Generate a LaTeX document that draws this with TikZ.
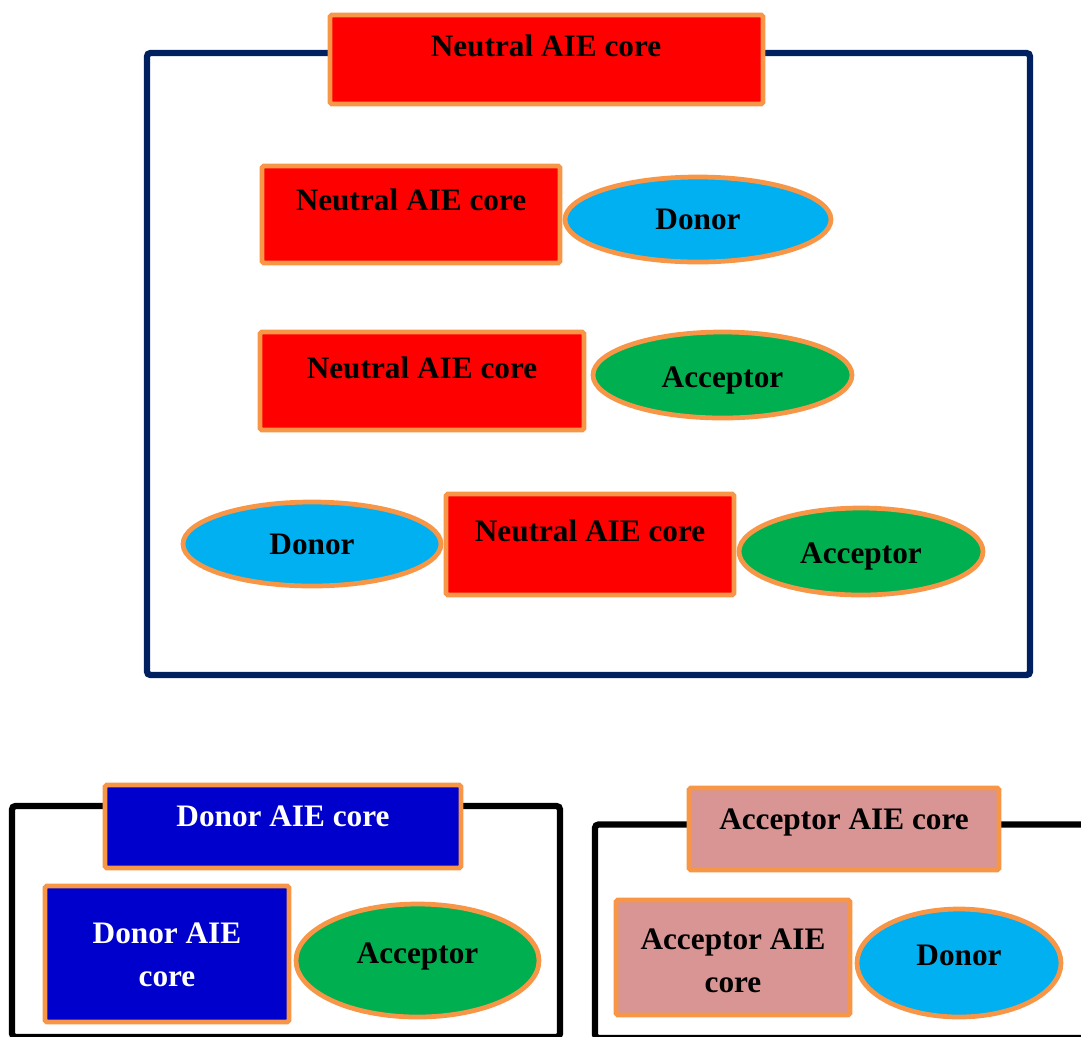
\documentclass[tikz,border=0pt]{standalone}
\usepackage{fontspec}
\setmainfont{Liberation Serif}
\usetikzlibrary{shapes.geometric}
\definecolor{neutralcolor}{RGB}{255, 0, 0}
\definecolor{edgecolor}{RGB}{247, 150, 70}
\definecolor{donorcolor}{RGB}{0, 176, 240}
\definecolor{acceptorcolor}{RGB}{0, 176, 80}
\definecolor{dcorecolor}{RGB}{0, 0, 204}
\definecolor{acorecolor}{RGB}{217, 149, 148}
\definecolor{framecolor}{RGB}{0, 32, 96}

\begin{document}
\begin{tikzpicture}[
    x=0.02cm, y=-0.02cm,
    dims/.style 2 args={minimum width=#1*0.02cm, minimum height=#2*0.02cm},
    corebox/.style={rectangle, draw=edgecolor, line width=2.7pt, rounded corners=1pt, inner sep=0pt},
    unit/.style={ellipse, draw=edgecolor, line width=2.7pt, inner sep=0pt},
    txt/.style={font=\fontsize{17.8}{24.5}\selectfont\bfseries, align=center, inner sep=0pt},
    frame/.style={line width=3.6pt, rounded corners=2pt},
  ]

  \useasboundingbox (0, 0) rectangle (1081, 1036);
  \clip (0, 0) rectangle (1081, 1036);

  % --- Neutral AIE core ---
  \draw[frame, framecolor] (147, 53) rectangle (1030, 675);
  \node[corebox, fill=neutralcolor, dims={433}{89}] (ntitle) at (546.5, 59.5) {};
  \node[txt] (ntitletext) at (546, 46) {Neutral AIE core};

  % row 1: core + donor
  \node[corebox, fill=neutralcolor, dims={298}{97}] (ncore1) at (411, 214.5) {};
  \node[txt] (ncore1text) at (411, 200) {Neutral AIE core};
  \node[unit, fill=donorcolor, dims={266}{85}] (don1) at (698, 219.5) {};
  \node[txt] (don1text) at (don1) {Donor};

  % row 2: core + acceptor
  \node[corebox, fill=neutralcolor, dims={324}{98}] (ncore2) at (422, 381) {};
  \node[txt] (ncore2text) at (422, 368) {Neutral AIE core};
  \node[unit, fill=acceptorcolor, dims={259}{86}] (acc2) at (722.5, 375) {};
  \node[txt] (acc2text) at (722.5, 380) {Acceptor};

  % row 3: donor + core + acceptor
  \node[unit, fill=donorcolor, dims={258}{84}] (don3) at (312, 544) {};
  \node[txt] (don3text) at (don3) {Donor};
  \node[corebox, fill=neutralcolor, dims={288}{101}] (ncore3) at (590, 544.5) {};
  \node[txt] (ncore3text) at (590, 531) {Neutral AIE core};
  \node[unit, fill=acceptorcolor, dims={244}{87}] (acc3) at (861, 551.5) {};
  \node[txt] (acc3text) at (861, 556) {Acceptor};

  % --- Donor AIE core ---
  \draw[frame, black] (12, 806) rectangle (560, 1037);
  \node[corebox, fill=dcorecolor, dims={356}{83}] (dtitle) at (283, 826.5) {};
  \node[txt, white] (dtitletext) at (283, 816) {Donor AIE core};
  \node[corebox, fill=dcorecolor, dims={244}{136}] (dcore) at (167, 954) {};
  \node[txt, white] (dcoretext) at (167, 955) {Donor AIE\\core};
  \node[unit, fill=acceptorcolor, dims={243}{113}] (accd) at (417.5, 960.5) {};
  \node[txt] (accdtext) at (417.5, 956) {Acceptor};

  % --- Acceptor AIE core ---
  \draw[frame, black] (595, 824.5) rectangle (1120, 1038);
  \node[corebox, fill=acorecolor, dims={310}{82}] (atitle) at (844, 829) {};
  \node[txt] (atitletext) at (844, 822) {Acceptor AIE core};
  \node[corebox, fill=acorecolor, dims={234}{115}] (acore) at (733, 957.5) {};
  \node[txt] (acoretext) at (733, 961) {Acceptor AIE\\core};
  \node[unit, fill=donorcolor, dims={204}{108}] (dona) at (959, 963) {};
  \node[txt] (donatext) at (959, 955) {Donor};

\end{tikzpicture}
\end{document}
